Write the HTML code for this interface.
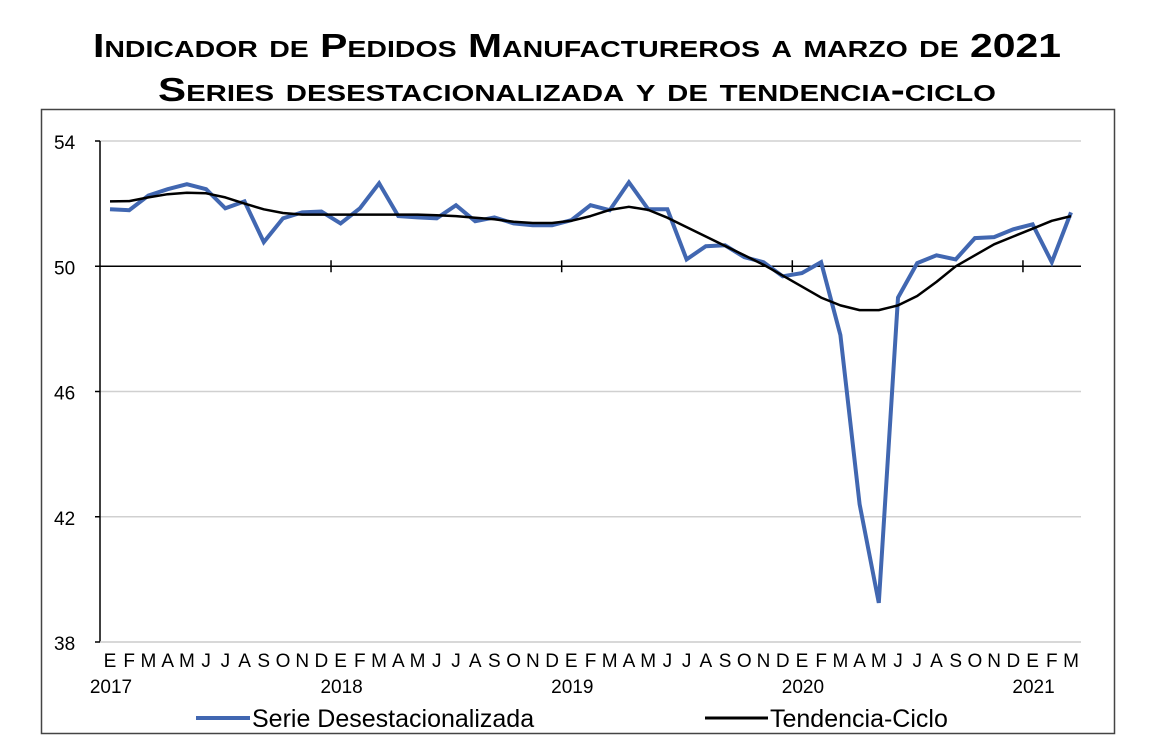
<!DOCTYPE html>
<html><head><meta charset="utf-8"><style>
html,body{margin:0;padding:0;background:#fff;}
svg{display:block;font-family:"Liberation Sans",Arial,sans-serif;}
</style></head><body>
<svg id="chart" width="1152" height="737" viewBox="0 0 1152 737">
<text x="577" y="57" text-anchor="middle" font-size="33" font-weight="bold" style="font-variant:small-caps" textLength="968" lengthAdjust="spacingAndGlyphs">Indicador de Pedidos Manufactureros a marzo de 2021</text>
<text x="577" y="101" text-anchor="middle" font-size="33" font-weight="bold" style="font-variant:small-caps" textLength="838" lengthAdjust="spacingAndGlyphs">Series desestacionalizada y de tendencia-ciclo</text>
<rect x="41.5" y="109.5" width="1073" height="624" fill="none" stroke="#444" stroke-width="1.5"/>
<g id="grid"></g><g id="axes"></g><g id="series"></g>
<g>
<line x1="196" y1="718" x2="250" y2="718" stroke="#4167b1" stroke-width="4"/>
<text x="252" y="727" font-size="25">Serie Desestacionalizada</text>
<line x1="705" y1="718" x2="768" y2="718" stroke="#000" stroke-width="3"/>
<text x="770" y="727" font-size="25">Tendencia-Ciclo</text>
</g>
</svg>
<script>
const monthLabels=["E","F","M","A","M","J","J","A","S","O","N","D"];
const years=["2017","2018","2019","2020","2021"];
const yTicks=[38,42,46,50,54];
const serie=[51.82,51.79,52.26,52.46,52.62,52.46,51.85,52.07,50.77,51.53,51.72,51.75,
51.37,51.85,52.65,51.6,51.56,51.53,51.95,51.44,51.56,51.37,51.31,51.31,
51.47,51.95,51.79,52.68,51.82,51.82,50.22,50.64,50.67,50.29,50.13,49.68,
49.78,50.13,47.8,42.4,39.25,49.0,50.1,50.35,50.22,50.9,50.93,51.18,
51.34,50.13,51.72];
const tendencia=[52.07,52.08,52.2,52.3,52.35,52.33,52.2,52.0,51.82,51.7,51.65,51.65,
51.65,51.65,51.65,51.65,51.65,51.63,51.6,51.55,51.5,51.42,51.38,51.38,
51.45,51.6,51.8,51.9,51.8,51.55,51.25,50.95,50.65,50.35,50.05,49.7,
49.35,49.0,48.75,48.6,48.6,48.75,49.05,49.5,50.0,50.35,50.7,50.95,
51.2,51.45,51.6];
const NS="http://www.w3.org/2000/svg";
const X0=100,X1=1081,Y_TOP=141,Y_BOT=642,VMIN=38,VMAX=54;
const step=19.22,first=110;
function xS(i){return first+i*step;}
function yS(v){return Y_BOT-(v-VMIN)/(VMAX-VMIN)*(Y_BOT-Y_TOP);}
function mk(tag,attrs,parent){const e=document.createElementNS(NS,tag);for(const k in attrs)e.setAttribute(k,attrs[k]);parent.appendChild(e);return e;}
const grid=document.getElementById('grid'),axes=document.getElementById('axes'),ser=document.getElementById('series');
yTicks.forEach(v=>{
  const y=yS(v);
  if(v!==50&&v!==38){const l=mk('line',{x1:X0,x2:X1,y1:y,y2:y,stroke:'#d0d0d0','stroke-width':1.5},grid);
  
  }
  const t=mk('text',{x:54,y:y+8,'font-size':19},axes);t.textContent=v;
  
  
  const tk=mk('line',{x1:X0-5,x2:X0,y1:y,y2:y,stroke:'#000','stroke-width':1.5},axes);
  
  
});
const ya=mk('line',{x1:X0,x2:X0,y1:Y_TOP,y2:Y_BOT,stroke:'#000','stroke-width':1.5},axes);


const bl=mk('line',{x1:X0,x2:X1,y1:yS(38),y2:yS(38),stroke:'#ccc','stroke-width':1.5},axes);


const xa=mk('line',{x1:X0-5,x2:X1,y1:yS(50),y2:yS(50),stroke:'#000','stroke-width':1.5},axes);


for(let yr=1;yr<years.length;yr++){
  const x=xS(yr*12-0.5);
  const tk=mk('line',{x1:x,x2:x,y1:yS(50)-6,y2:yS(50)+6,stroke:'#000','stroke-width':1.5},axes);
  
  
}
for(let i=0;i<serie.length;i++){
  const t=mk('text',{x:xS(i),y:667,'font-size':19,'text-anchor':'middle'},axes);
  t.textContent=monthLabels[i%12];
  
  
}
years.forEach((y,k)=>{
  const t=mk('text',{x:xS(k*12)+1,y:693,'font-size':19,'text-anchor':'middle'},axes);
  t.textContent=y;
  
  
});
function pts(arr){return arr.map((v,i)=>xS(i).toFixed(1)+','+yS(v).toFixed(1)).join(' ');}
const p1=mk('polyline',{points:pts(serie),fill:'none',stroke:'#4167b1','stroke-width':4,'stroke-linejoin':'miter'},ser);


const p2=mk('polyline',{points:pts(tendencia),fill:'none',stroke:'#000','stroke-width':2.5,'stroke-linejoin':'round'},ser);


</script>
</body></html>
